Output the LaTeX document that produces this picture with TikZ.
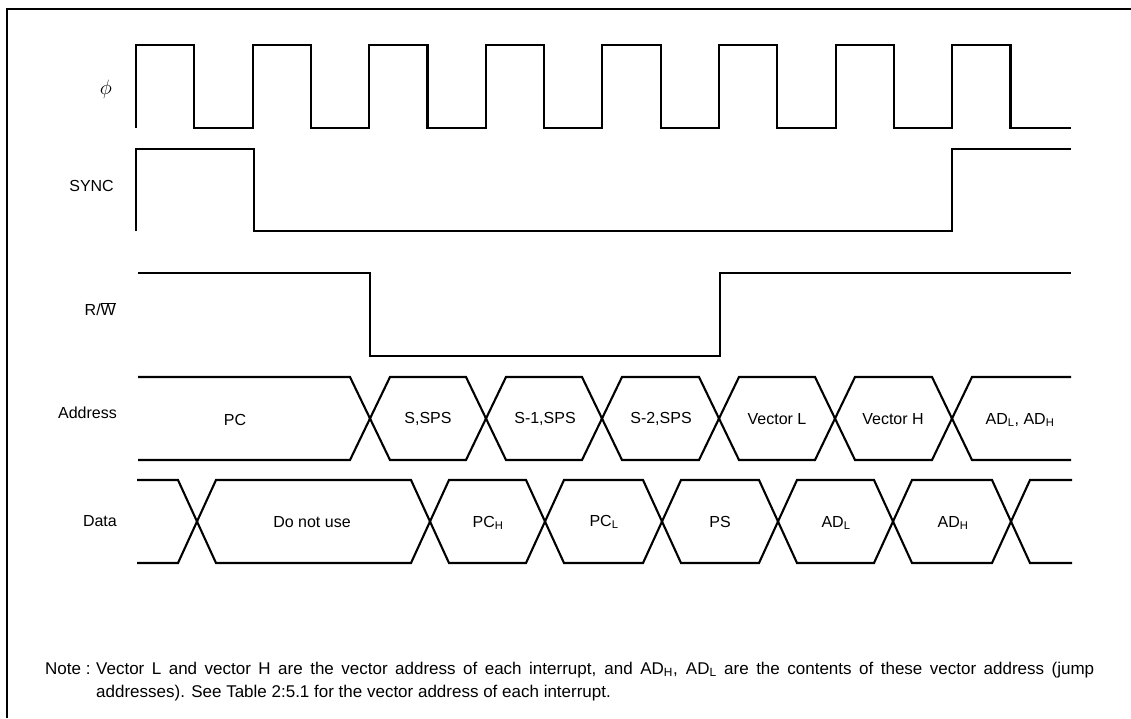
\documentclass[tikz,border=0pt]{standalone}
\usepackage{fontspec}
\setmainfont{Liberation Sans}
\usetikzlibrary{positioning}

\begin{document}
\begin{tikzpicture}[x=1pt,y=-1pt,
  wave/.style={line width=2.1pt,line join=miter},
  signame/.style={anchor=east,font=\fontsize{16}{18}\selectfont},
  cell/.style={font=\fontsize{16}{18}\selectfont},
  notetext/.style={anchor=base west,font=\fontsize{17}{20}\selectfont}]
\tikzstyle{every node}+=[inner sep=0pt]
\useasboundingbox (0,0) rectangle (1131,718);
\draw [line width=2pt] (1131,9) -- (7,9) -- (7,718);
\node [signame,font=\fontsize{21}{24}\selectfont] (phi) at (112,89) {$\phi$};
\node [signame] (sync) at (114,186) {SYNC};
\node [signame] (rw) at (116,309) {R/$\overline{\mbox{W}}$};
\node [signame] (addr) at (117,413) {Address};
\node [signame] (data) at (117,521) {Data};
\draw [wave] (136,128) \foreach \k in {1,...,8} {-- ++(0,-83) -- ++(58.3,0) -- ++(0,83) -- ++(58.3,0)} -- (1071,128);
\draw [wave] (136,231) -- (136,149) -- (254,149) -- (254,231) -- (952,231) -- (952,149) -- (1071,149);
\draw [wave] (138,273) -- (370,273) -- (370,356) -- (720,356) -- (720,273) -- (1071,273);
\draw [wave] (138,377) -- (350,377) -- (370,418.5) -- (350,460) -- (138,460);
\foreach \a/\b in {370/486,486/602,602/719,719/835,835/952}
  \draw [wave] (\a,418.5) -- ({\a+20},377) -- ({\b-20},377) -- (\b,418.5) -- ({\b-20},460) -- ({\a+20},460) -- cycle;
\draw [wave] (1071,377) -- (972,377) -- (952,418.5) -- (972,460) -- (1071,460);
\draw [wave] (137,480) -- (178,480) -- (197,521.5) -- (178,563) -- (137,563);
\foreach \a/\b in {197/430,430/545,545/662,662/778,778/893,893/1011}
  \draw [wave] (\a,521.5) -- ({\a+19},480) -- ({\b-19},480) -- (\b,521.5) -- ({\b-19},563) -- ({\a+19},563) -- cycle;
\draw [wave] (1072,480) -- (1030,480) -- (1011,521.5) -- (1030,563) -- (1072,563);
\node [cell] (pc) at (235,420) {PC};
\node [cell] (ssps) at (428,419) {S,SPS};
\node [cell] (s1sps) at (545,419) {S-1,SPS};
\node [cell] (s2sps) at (661,419) {S-2,SPS};
\node [cell] (vecl) at (777,419) {Vector L};
\node [cell] (vech) at (893,419) {Vector H};
\node [cell] (adlh) at (1020,420) {AD\textsubscript{L}, AD\textsubscript{H}};
\node [cell] (dnu) at (312,522) {Do not use};
\node [cell] (pch) at (488,523) {PC\textsubscript{H}};
\node [cell] (pcl) at (604,522) {PC\textsubscript{L}};
\node [cell] (ps) at (720,522) {PS};
\node [cell] (adl) at (836,523) {AD\textsubscript{L}};
\node [cell] (adh) at (953,523) {AD\textsubscript{H}};
\node [notetext] (note) at (45,674) {Note :};
\node [notetext] (noteone) at (96,674) {\makebox[998pt][s]{Vector L and vector H are the vector address of each interrupt, and AD\textsubscript{H}, AD\textsubscript{L} are the contents of these vector address (jump}};
\node [notetext] (notetwo) at (96,697) {addresses). See Table 2:5.1 for the vector address of each interrupt.};
\end{tikzpicture}
\end{document}
